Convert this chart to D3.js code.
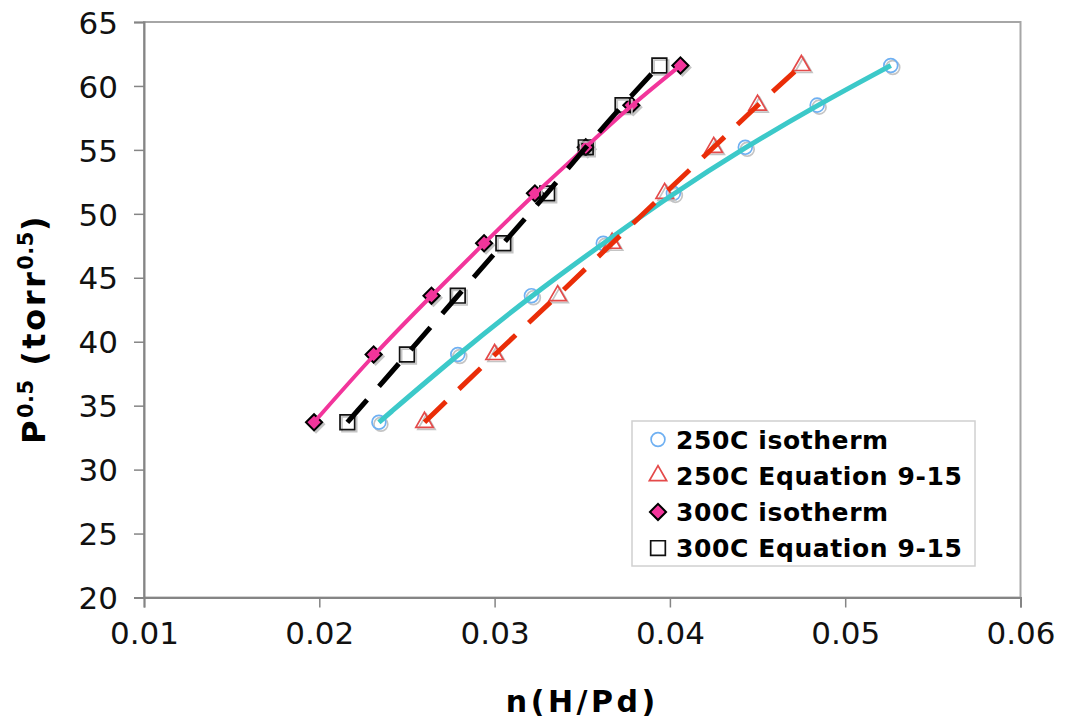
<!DOCTYPE html>
<html>
<head>
<meta charset="utf-8">
<script src="https://cdn.jsdelivr.net/npm/d3@7"></script>
<style>
  body { margin: 0; background: #fff; }
  svg { font-family: "DejaVu Sans", Verdana, sans-serif; }
</style>
</head>
<body>
<div id="chart"></div>
<script>
// data
var pressure = [33.7, 39.0, 43.6, 47.7, 51.6, 55.2, 58.5, 61.6]
var iso250 = [0.0234, 0.0279, 0.0321, 0.0362, 0.0402, 0.0443, 0.0484, 0.0526]
var eq250 = [0.0260, 0.0300, 0.0336, 0.0367, 0.0397, 0.0425, 0.0450, 0.0475]
var iso300 = [0.0197, 0.0231, 0.0264, 0.0294, 0.0323, 0.0352, 0.0378, 0.0406]
var eq300 = [0.0216, 0.0250, 0.0279, 0.0305, 0.0330, 0.0352, 0.0373, 0.0394]
var x_ticks = [0.01, 0.02, 0.03, 0.04, 0.05, 0.06]
var y_ticks = [20, 25, 30, 35, 40, 45, 50, 55, 60, 65]
var legend_labels = ['250C isotherm', '250C Equation 9-15', '300C isotherm', '300C Equation 9-15']

var width = 1067, height = 723
var plot_left = 144, plot_right = 1020.5, plot_top = 22, plot_bottom = 597.5

var series = [
    { name: legend_labels[0], xs: iso250, marker: 'circle', stroke: '#6fb0f2', fill: 'none', line: '#3cc9c9', dash: null, lw: 5 },
    { name: legend_labels[1], xs: eq250, marker: 'triangle', stroke: '#e44a4a', fill: 'none', line: '#ea2d08', dash: '30,18', lw: 5 },
    { name: legend_labels[2], xs: iso300, marker: 'diamond', stroke: '#000', fill: '#f2359b', line: '#f2359b', dash: null, lw: 4 },
    { name: legend_labels[3], xs: eq300, marker: 'square', stroke: '#111', fill: 'none', line: '#000', dash: '30,18', lw: 5 }
]

var x = d3.scaleLinear().domain([0.01, 0.06]).range([plot_left, plot_right])
var y = d3.scaleLinear().domain([20, 65]).range([plot_bottom, plot_top])

var svg = d3.select('#chart')
    .append('svg')
    .attr('width', width)
    .attr('height', height)

// plot frame
svg.append('rect')
    .attr('x', plot_left).attr('y', plot_top)
    .attr('width', plot_right - plot_left).attr('height', plot_bottom - plot_top)
    .attr('fill', 'none')
    .attr('stroke', '#a6a6a6')
    .attr('stroke-width', 2)

// axes
var x_axis = svg.append('g')
    .attr('transform', `translate(0,${plot_bottom})`)
    .call(d3.axisBottom(x).tickValues(x_ticks).tickSize(10).tickPadding(14).tickFormat(d3.format('.2f')))
var y_axis = svg.append('g')
    .attr('transform', `translate(${plot_left},0)`)
    .call(d3.axisLeft(y).tickValues(y_ticks).tickSize(10).tickPadding(16))

;[x_axis, y_axis].forEach(ax => {
    ax.select('.domain').attr('stroke', '#858585').attr('stroke-width', 2)
    ax.selectAll('.tick line').attr('stroke', '#858585').attr('stroke-width', 1.5)
    ax.selectAll('.tick text')
        .attr('font-size', 31)
        .attr('font-family', '"DejaVu Sans", sans-serif')
        .attr('fill', '#111')
})
y_axis.selectAll('.tick text').attr('dy', '0.36em')

// axis titles
svg.append('text')
    .attr('x', (plot_left + plot_right) / 2)
    .attr('y', 712)
    .attr('text-anchor', 'middle')
    .attr('font-size', 30)
    .attr('font-weight', 'bold')
    .attr('letter-spacing', 3.5)
    .text('n(H/Pd)')

var y_title = svg.append('text')
    .attr('transform', 'translate(45,329) rotate(-90)')
    .attr('text-anchor', 'middle')
    .attr('font-size', 32)
    .attr('font-weight', 'bold')
    .attr('letter-spacing', 2.5)
y_title.append('tspan').text('P')
y_title.append('tspan').attr('font-size', 21).attr('letter-spacing', 0.5).attr('dy', -12).text('0.5')
y_title.append('tspan').attr('dy', 12).text(' (torr')
y_title.append('tspan').attr('font-size', 21).attr('letter-spacing', 0.5).attr('dy', -12).text('0.5')
y_title.append('tspan').attr('dy', 12).text(')')

// marker shapes
var symbol_of = {
    circle: d3.symbol(d3.symbolCircle, 150),
    triangle: d3.symbol(d3.symbolTriangle, 130),
    diamond: d3.symbol(d3.symbolSquare, 130),
    square: d3.symbol(d3.symbolSquare, 215)
}
var draw_marker = (g, s, cx, cy, shadow) => {
    var rot = s.marker == 'diamond' ? ' rotate(45)' : ''
    g.append('path')
        .attr('d', symbol_of[s.marker]())
        .attr('transform', `translate(${cx + (shadow ? 2 : 0)},${cy + (shadow ? 2 : 0)})${rot}`)
        .attr('fill', shadow ? (s.fill == 'none' ? 'none' : '#bbb') : s.fill)
        .attr('stroke', shadow ? '#c4c4c4' : s.stroke)
        .attr('stroke-width', s.marker == 'diamond' ? 2 : 1.7)
}

var marks = svg.append('g')
series.forEach(s => {
    s.xs.forEach((v, i) => draw_marker(marks, s, x(v), y(pressure[i]), true))
    s.xs.forEach((v, i) => draw_marker(marks, s, x(v), y(pressure[i]), false))
})

// smoothed lines over the markers
var line = d3.line()
    .x(d => x(d[0]))
    .y(d => y(d[1]))
    .curve(d3.curveBasis)

series.forEach(s => {
    svg.append('path')
        .datum(s.xs.map((v, i) => [v, pressure[i]]))
        .attr('d', line)
        .attr('fill', 'none')
        .attr('stroke', s.line)
        .attr('stroke-width', s.lw)
        .attr('stroke-dasharray', s.dash)
})

// legend
var legend = svg.append('g')
legend.append('rect')
    .attr('x', 632).attr('y', 421)
    .attr('width', 343).attr('height', 145)
    .attr('fill', '#fff')
    .attr('stroke', '#d0d0d0')
    .attr('stroke-width', 1.5)

series.forEach((s, i) => {
    var cy = 439.5 + i * 36.2
    draw_marker(legend, s, 658, cy, false)
    legend.append('text')
        .attr('x', 676)
        .attr('y', cy)
        .attr('dy', '0.36em')
        .attr('font-size', 25)
        .attr('font-weight', 'bold')
        .attr('letter-spacing', 0.6)
        .text(s.name)
})
</script>
</body>
</html>
